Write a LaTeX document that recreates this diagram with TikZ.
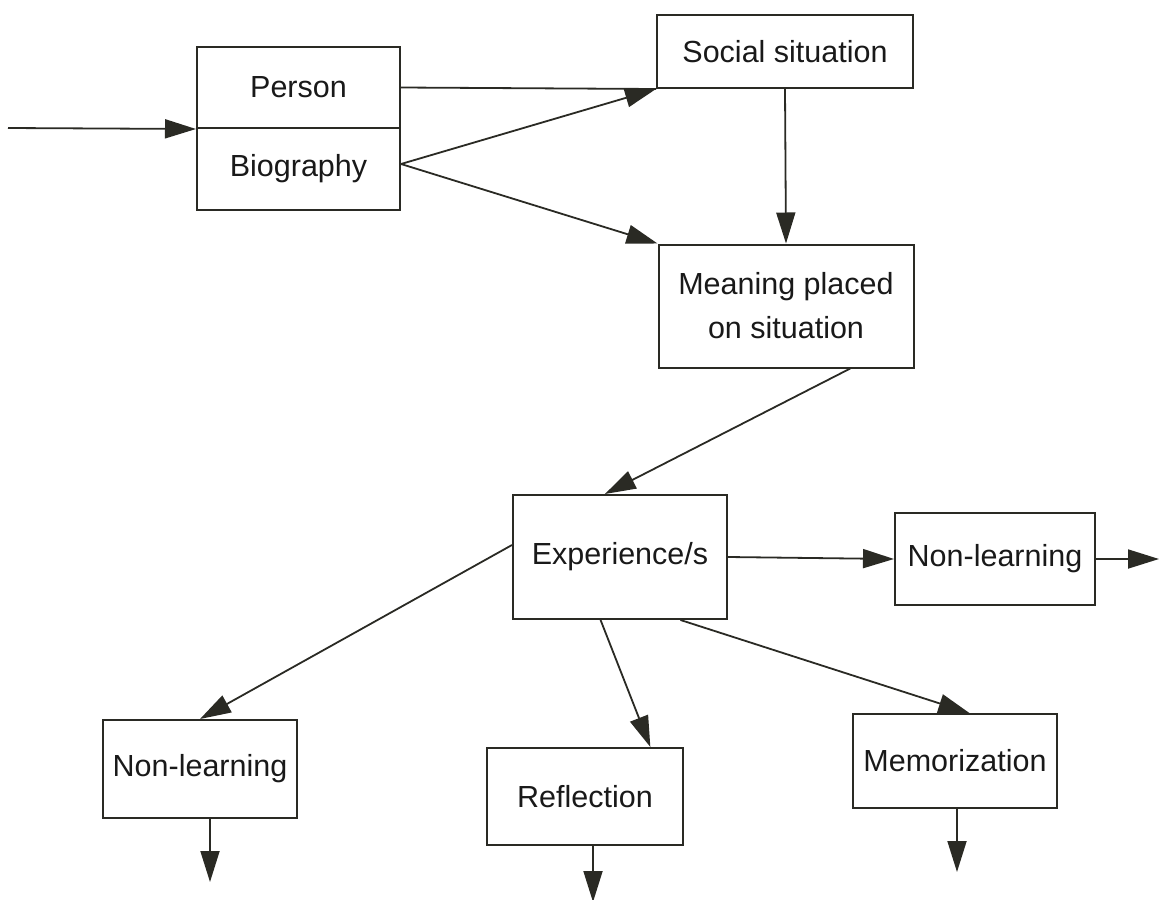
\documentclass[tikz,border=0pt]{standalone}
\usepackage{fontspec}
\setmainfont{Liberation Sans}
\usetikzlibrary{arrows.meta,calc}
\definecolor{ink}{HTML}{2A2A24}
\begin{document}
\begin{tikzpicture}[x=1pt,y=-1pt,
  box/.style={draw=ink, line width=2pt, inner sep=0pt, align=center,
    text=black!90, font=\fontsize{30.5}{44}\selectfont},
  ln/.style={draw=ink, line width=1.8pt},
  arr/.style={ln, -{Triangle[length=31pt,width=19pt]}}]
\useasboundingbox (0,0) rectangle (1160,900);

% boxes
\node[box, minimum width=203pt, minimum height=81pt] (pers) at (298.5,87.5) {Person};
\node[box, minimum width=203pt, minimum height=82pt] (bio) at (298.5,169) {Biography};
\node[box, minimum width=256pt, minimum height=73pt] (soc) at (785,51.5) {Social situation};
\node[box, minimum width=255pt, minimum height=123pt] (mean) at (786,306) {Meaning placed\\on situation};
\node[box, minimum width=214pt, minimum height=124pt] (exp) at (620,557) {Experience/s};
\node[box, minimum width=200pt, minimum height=92pt] (nlr) at (995,559) {Non-learning};
\node[box, minimum width=194pt, minimum height=98pt] (nll) at (200,769) {Non-learning};
\node[box, minimum width=196pt, minimum height=97pt] (refl) at (585,796.5) {Reflection};
\node[box, minimum width=204pt, minimum height=94pt] (memo) at (955,761) {Memorization};

% free ends
\coordinate (in) at (8,128);
\coordinate (out) at (1159,559);
\coordinate (nllend) at (210,882);
\coordinate (reflend) at (593,902);
\coordinate (memoend) at (957,872);

% connectors
\draw[arr] (in) -- (pers.south west);
\draw[ln] (pers.east) -- (soc.south west);
\draw[arr] ($(bio.east)+(0,-5)$) -- (soc.south west);
\draw[arr] ($(bio.east)+(0,-5)$) -- (mean.north west);
\draw[arr] (soc.south) -- (mean.north);
\draw[arr] ($(mean.south west)!0.75!(mean.south east)$) -- ($(exp.north west)!0.43!(exp.north east)$);
\draw[arr] (exp.east) -- (nlr.west);
\draw[arr] (nlr.east) -- (out);
\draw[arr] ($(exp.west)+(0,-12)$) -- (nll.north);
\draw[arr] ($(exp.south west)!0.41!(exp.south east)$) -- ($(refl.north west)!0.83!(refl.north east)$);
\draw[arr] ($(exp.south west)!0.78!(exp.south east)$) -- ($(memo.north west)!0.57!(memo.north east)$);
\draw[arr] ($(nll.south)+(10,0)$) -- (nllend);
\draw[arr] ($(refl.south)+(8,0)$) -- (reflend);
\draw[arr] ($(memo.south)+(2,0)$) -- (memoend);
\end{tikzpicture}
\end{document}
